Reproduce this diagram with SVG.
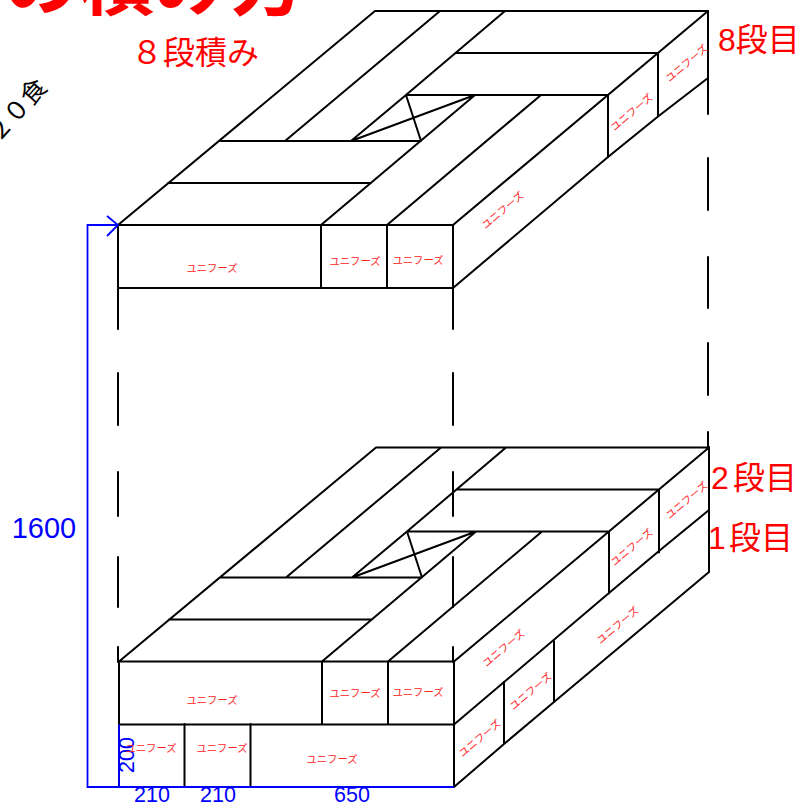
<svg xmlns="http://www.w3.org/2000/svg" width="801" height="805" viewBox="0 0 801 805">
<style>
.l{fill:none;stroke:#000;stroke-width:2;stroke-linecap:round;stroke-linejoin:round}
.b{fill:none;stroke:#00f;stroke-width:1.8}
.u{font-family:"Noto Sans CJK JP","Liberation Sans",sans-serif;font-size:10.300px;fill:#f22;text-anchor:middle}
.r{font-family:"Liberation Sans","Noto Sans CJK JP",sans-serif;font-size:32px;fill:#f00}
.n{font-family:"Liberation Sans",sans-serif;fill:#00f;text-anchor:middle}
</style>
<defs>
<path id="layer" d="M118 225H453V288H118ZM321 225V288M387 225V288M118 225L375 11H708L453 225M321 225L475 95M387 225L541 95M285 141L440 11M351 141L406 95L505 11M219 141H421M168 183H371M406 95H608M456 53H658M608 95V157M658 53V116M351 141L475 95M406 95L421 141"/>
</defs>
<g id="title">
<text x="3" y="9" font-family="Noto Sans CJK JP,sans-serif" font-size="76" font-weight="700" fill="#f00">の積み方</text>
<text x="131" y="64" font-family="Noto Sans CJK JP,sans-serif" font-size="32" fill="#f00">８段積み</text>
<text transform="translate(-2 144) rotate(-48)" font-family="Noto Sans CJK JP,sans-serif" font-size="25" fill="#000">２０食</text>
</g>
<g id="connectors">
<path class="l" d="M118 288V329M118 373V425M118 472V516M118 557V607M118 647V662M453 288V329M453 373V425M453 472V516M453 557V607M453 647V662M708 78V114M708 158V210M708 257V308M708 343V395M708 432V447"/>
</g>
<g id="stack-8"><use href="#layer" class="l"/><path class="l" d="M453 288L608 157L658 116.500L708 78V11"/></g>
<g id="stack-2"><use href="#layer" class="l" x="1" y="436.500"/><path class="l" d="M454 724.500L609 593L659 551L709 510V447"/></g>
<g id="stack-1">
<path class="l" d="M119 724.500V787H454V724.500M184.500 724V787M250.500 724V787M454 787L504 744L554 702L709 572V510M504 682V744M554 641V702"/>
</g>
<g id="dimensions">
<path class="b" d="M118 225H87.500V787H119"/>
<path class="b" d="M107 216L118 225L107 236"/>
<path class="b" d="M119 724.500V787H454" stroke-width="2"/>
<text class="n" x="44" y="538" font-size="29">1600</text>
<text class="n" x="152" y="802" font-size="21.500">210</text>
<text class="n" x="218" y="802" font-size="21.500">210</text>
<text class="n" x="352" y="802" font-size="21.500">650</text>
<text class="n" transform="translate(134 755) rotate(-90)" font-size="21.500">200</text>
</g>
<g id="labels">
<text class="r" x="718" y="51">8段目</text>
<text class="r" y="489"><tspan x="711">2</tspan><tspan x="733">段目</tspan></text>
<text class="r" y="549" font-size="30.500"><tspan x="708">1</tspan><tspan x="729">段目</tspan></text>
<text class="u" x="212" y="272">ユニフーズ</text>
<text class="u" x="355" y="265">ユニフーズ</text>
<text class="u" x="418" y="264">ユニフーズ</text>
<text class="u" transform="translate(505 213) rotate(-40)">ユニフーズ</text>
<text class="u" transform="translate(634 115) rotate(-40)">ユニフーズ</text>
<text class="u" transform="translate(689 66) rotate(-40)">ユニフーズ</text>
<text class="u" x="212" y="704">ユニフーズ</text>
<text class="u" x="355" y="697">ユニフーズ</text>
<text class="u" x="418" y="696">ユニフーズ</text>
<text class="u" transform="translate(506 651) rotate(-40)">ユニフーズ</text>
<text class="u" transform="translate(634 550) rotate(-40)">ユニフーズ</text>
<text class="u" transform="translate(689 503) rotate(-40)">ユニフーズ</text>
<text class="u" x="151" y="752">ユニフーズ</text>
<text class="u" x="222" y="752">ユニフーズ</text>
<text class="u" x="332" y="763">ユニフーズ</text>
<text class="u" transform="translate(482 741) rotate(-40)">ユニフーズ</text>
<text class="u" transform="translate(533 694) rotate(-40)">ユニフーズ</text>
<text class="u" transform="translate(620 628) rotate(-40)">ユニフーズ</text>
</g>
</svg>
